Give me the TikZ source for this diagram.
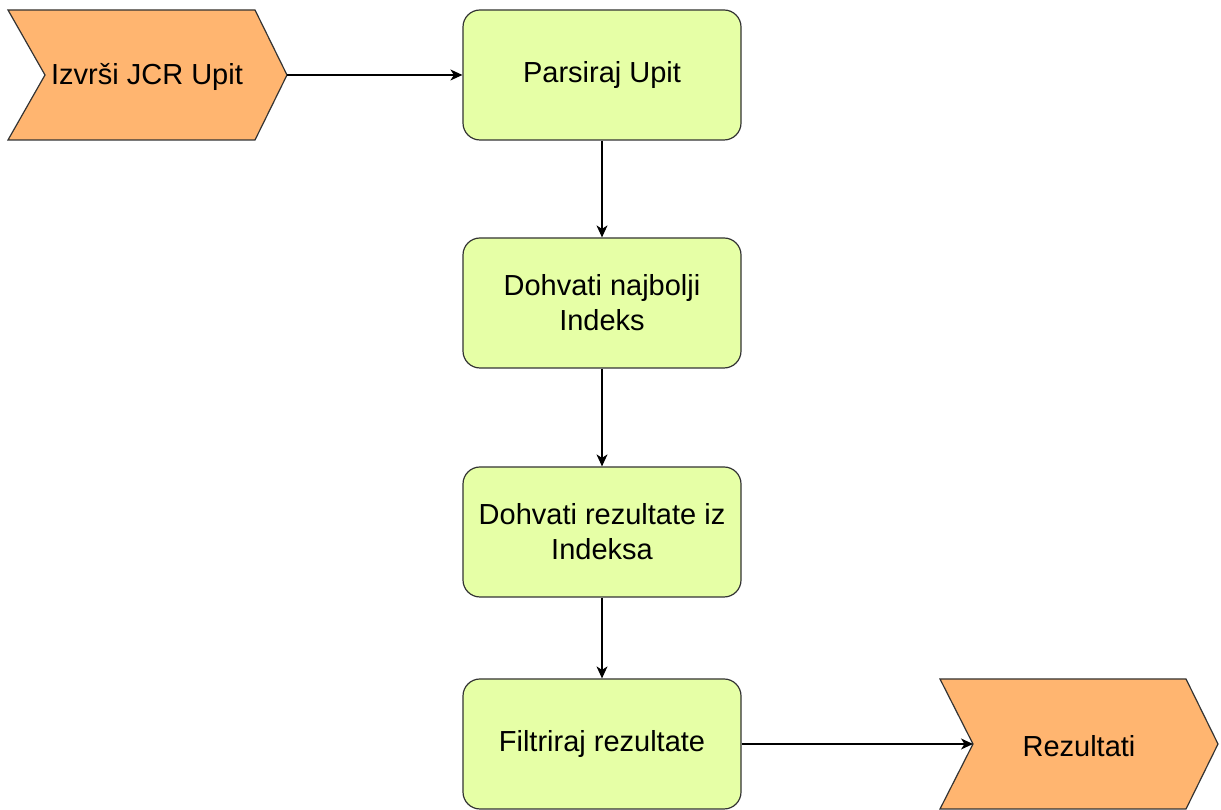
\documentclass[tikz,border=0pt]{standalone}
\usepackage{fontspec}
\setmainfont{Liberation Sans}
\usetikzlibrary{arrows.meta}
\definecolor{stepfill}{HTML}{FFB570}
\definecolor{boxfill}{HTML}{E6FFA6}
\definecolor{edge}{HTML}{333333}
\begin{document}
\begin{tikzpicture}[x=1pt,y=1pt,
  proc/.style={draw=edge, fill=boxfill, line width=1.2pt, rounded corners=17pt,
    minimum width=278pt, minimum height=130pt, align=center, inner sep=0pt,
    font=\fontsize{29}{35}\selectfont},
  lbl/.style={minimum width=240pt, minimum height=130pt, align=center, inner sep=0pt,
    font=\fontsize{29}{35}\selectfont},
  chev/.style={draw=edge, fill=stepfill, line width=1.2pt, line join=miter},
  conn/.style={line width=1.2pt, draw=black, -{Stealth[length=12pt,width=11pt,inset=3.5pt]}}
]
\useasboundingbox (0,0) rectangle (1221,810);
% left chevron
\draw[chev] (8,800) -- (255,800) -- (287,735) -- (255,670) -- (8,670) -- (45,735) -- cycle;
\coordinate (tipA) at (287,735);
\node[lbl] (izvrsi) at (147,733) {Izvrši JCR Upit};
% right chevron
\draw[chev] (940,131) -- (1186,131) -- (1218,66) -- (1186,1) -- (940,1) -- (973,66) -- cycle;
\coordinate (notchB) at (973,66);
\node[lbl] (rez) at (1079,64) {Rezultati};
% process boxes
\node[proc] (parse) at (602,735) {\raisebox{-2pt}{Parsiraj Upit}};
\node[proc] (best) at (602,507) {Dohvati najbolji\\Indeks};
\node[proc] (fetch) at (602,278) {Dohvati rezultate iz\\Indeksa};
\node[proc] (filter) at (602,66) {\raisebox{-2pt}{Filtriraj rezultate}};
% connectors
\draw[conn] (tipA) -- (parse.west);
\draw[conn] (parse.south) -- (best.north);
\draw[conn] (best.south) -- (fetch.north);
\draw[conn] (fetch.south) -- (filter.north);
\draw[conn] (filter.east) -- (notchB);
\end{tikzpicture}
\end{document}
